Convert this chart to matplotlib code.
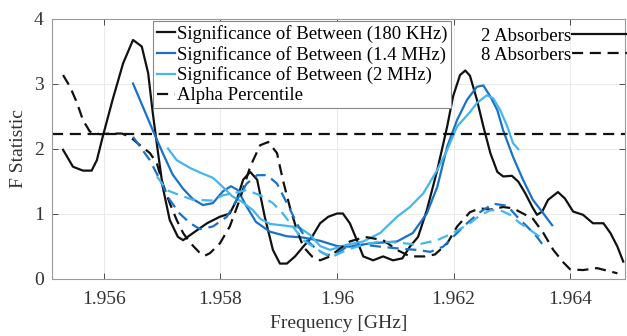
import matplotlib
matplotlib.use("Agg")
import matplotlib.pyplot as plt
from matplotlib.lines import Line2D

plt.rcParams['font.family'] = ['Liberation Serif', 'DejaVu Serif']

# ---------------- data ----------------
alpha_percentile = 2.22

x_180k_2 = [1.95530, 1.95547, 1.95564, 1.95579, 1.95588, 1.95598, 1.95615, 1.95633, 1.95650, 1.95665,
            1.95676, 1.95684, 1.95693, 1.95701, 1.95713, 1.95727, 1.95736, 1.95753, 1.95777, 1.95799,
            1.95816, 1.95828, 1.95839, 1.95851, 1.95863, 1.95876, 1.95890, 1.95902, 1.95914, 1.95928,
            1.95942, 1.95957, 1.95971, 1.95985, 1.96000, 1.96010, 1.96022, 1.96034, 1.96045, 1.96062,
            1.96079, 1.96096, 1.96112, 1.96125, 1.96139, 1.96154, 1.96172, 1.96189, 1.96199, 1.96211,
            1.96220, 1.96228, 1.96240, 1.96251, 1.96263, 1.96275, 1.96285, 1.96300, 1.96311, 1.96323,
            1.96335, 1.96343, 1.96352, 1.96362, 1.96379, 1.96391, 1.96405, 1.96422, 1.96439, 1.96457,
            1.96469, 1.96481, 1.96491]
y_180k_2 = [1.98, 1.72, 1.66, 1.66, 1.82, 2.18, 2.75, 3.31, 3.67, 3.57,
            3.16, 2.54, 1.93, 1.41, 0.90, 0.64, 0.59, 0.70, 0.85, 0.95,
            1.00, 1.21, 1.52, 1.64, 1.52, 0.95, 0.44, 0.23, 0.23, 0.34,
            0.49, 0.64, 0.85, 0.95, 1.00, 1.00, 0.85, 0.59, 0.34, 0.28,
            0.34, 0.28, 0.31, 0.49, 0.64, 1.05, 1.67, 2.34, 2.80, 3.13,
            3.20, 3.12, 2.75, 2.34, 1.93, 1.64, 1.57, 1.58, 1.49, 1.31,
            1.10, 0.98, 1.03, 1.21, 1.33, 1.23, 1.03, 0.98, 0.85, 0.85,
            0.70, 0.49, 0.26]

x_180k_8 = [1.95530, 1.95542, 1.95554, 1.95564, 1.95576, 1.95593, 1.95610, 1.95631, 1.95645, 1.95662,
            1.95679, 1.95691, 1.95701, 1.95713, 1.95725, 1.95736, 1.95748, 1.95765, 1.95773, 1.95782,
            1.95799, 1.95816, 1.95833, 1.95851, 1.95868, 1.95882, 1.95897, 1.95907, 1.95919, 1.95931,
            1.95942, 1.95957, 1.95971, 1.95988, 1.96002, 1.96022, 1.96048, 1.96079, 1.96103, 1.96125,
            1.96151, 1.96168, 1.96189, 1.96206, 1.96228, 1.96245, 1.96263, 1.96285, 1.96302, 1.96319,
            1.96336, 1.96354, 1.96371, 1.96388, 1.96400, 1.96422, 1.96446, 1.96481]
y_180k_8 = [3.13, 2.95, 2.70, 2.44, 2.26, 2.22, 2.23, 2.23, 2.18, 2.05,
            1.93, 1.77, 1.46, 1.16, 0.90, 0.70, 0.55, 0.39, 0.35, 0.39,
            0.54, 0.80, 1.21, 1.72, 2.05, 2.10, 1.93, 1.52, 1.10, 0.75,
            0.49, 0.34, 0.28, 0.34, 0.44, 0.57, 0.64, 0.59, 0.44, 0.34,
            0.34, 0.37, 0.54, 0.80, 1.02, 1.08, 1.06, 1.10, 1.08, 1.00,
            0.92, 0.70, 0.44, 0.25, 0.14, 0.13, 0.16, 0.08]

x_14m_2 = [1.95650, 1.95667, 1.95684, 1.95701, 1.95718, 1.95736, 1.95753, 1.95770, 1.95787, 1.95804,
           1.95818, 1.95830, 1.95844, 1.95861, 1.95885, 1.95914, 1.95942, 1.95971, 1.96000, 1.96022,
           1.96057, 1.96103, 1.96130, 1.96154, 1.96172, 1.96189, 1.96206, 1.96223, 1.96240, 1.96251,
           1.96263, 1.96275, 1.96285, 1.96302, 1.96319, 1.96336, 1.96354, 1.96369]
y_14m_2 = [3.00, 2.64, 2.28, 1.93, 1.60, 1.38, 1.22, 1.13, 1.16, 1.34,
           1.42, 1.36, 1.12, 0.87, 0.72, 0.65, 0.63, 0.58, 0.50, 0.49,
           0.54, 0.57, 0.70, 1.00, 1.41, 2.03, 2.44, 2.75, 2.95, 2.97,
           2.80, 2.59, 2.28, 1.87, 1.52, 1.21, 1.00, 0.82]

x_2m_2 = [1.95710, 1.95725, 1.95748, 1.95765, 1.95787, 1.95804, 1.95821, 1.95837, 1.95856, 1.95868,
          1.95885, 1.95914, 1.95936, 1.95954, 1.95971, 1.95988, 1.96017, 1.96045, 1.96074, 1.96103,
          1.96125, 1.96148, 1.96172, 1.96189, 1.96206, 1.96228, 1.96240, 1.96257, 1.96268, 1.96280,
          1.96292, 1.96302, 1.96311]
y_2m_2 = [2.00, 1.82, 1.70, 1.63, 1.55, 1.41, 1.26, 1.18, 1.05, 0.92,
          0.84, 0.81, 0.78, 0.67, 0.50, 0.44, 0.52, 0.57, 0.70, 0.95,
          1.10, 1.31, 1.67, 1.98, 2.34, 2.56, 2.70, 2.82, 2.77, 2.59,
          2.34, 2.08, 1.99]

x_14m_8 = [1.95650, 1.95662, 1.95679, 1.95696, 1.95713, 1.95730, 1.95748, 1.95765, 1.95787, 1.95811,
           1.95828, 1.95845, 1.95863, 1.95880, 1.95897, 1.95914, 1.95931, 1.95948, 1.95966, 1.95983,
           1.96000, 1.96017, 1.96045, 1.96074, 1.96108, 1.96137, 1.96160, 1.96182, 1.96199, 1.96223,
           1.96245, 1.96268, 1.96292, 1.96309, 1.96326, 1.96343, 1.96357]
y_14m_8 = [2.18, 2.03, 1.82, 1.52, 1.21, 1.00, 0.85, 0.76, 0.80, 0.95,
           1.21, 1.46, 1.59, 1.59, 1.46, 1.16, 0.85, 0.59, 0.44, 0.36,
           0.39, 0.49, 0.52, 0.49, 0.46, 0.44, 0.41, 0.49, 0.64, 0.85,
           1.02, 1.15, 1.12, 0.95, 0.80, 0.64, 0.47]

x_2m_8 = [1.95691, 1.95708, 1.95725, 1.95753, 1.95787, 1.95804, 1.95821, 1.95845, 1.95868, 1.95890,
          1.95907, 1.95924, 1.95942, 1.95959, 1.95976, 1.95993, 1.96017, 1.96045, 1.96074, 1.96108,
          1.96137, 1.96172, 1.96199, 1.96228, 1.96245, 1.96263, 1.96280, 1.96297, 1.96314, 1.96331,
          1.96348]
y_2m_8 = [1.57, 1.36, 1.30, 1.21, 1.20, 1.28, 1.31, 1.36, 1.28, 1.16,
          1.00, 0.80, 0.59, 0.49, 0.39, 0.34, 0.44, 0.52, 0.57, 0.55,
          0.52, 0.59, 0.70, 0.85, 0.97, 1.05, 1.05, 0.98, 0.85, 0.75,
          0.64]

labels = ['Significance of Between (180 KHz)', 'Significance of Between (1.4 MHz)',
          'Significance of Between (2 MHz)', 'Alpha Percentile']
absorber_labels = ['2 Absorbers', '8 Absorbers']
xticks = [1.956, 1.958, 1.96, 1.962, 1.964]
xtick_labels = ['1.956', '1.958', '1.96', '1.962', '1.964']
yticks = [0, 1, 2, 3, 4]

# ---------------- style ----------------
c_black = '#111111'
c_dark = '#1a72c6'
c_light = '#45b6ec'
lw = 1.6
dash = (5, 3)

fig = plt.figure(figsize=(6.27, 3.36), dpi=100)
ax = fig.add_axes([0.0829, 0.1711, 0.9139, 0.7738])

ax.plot(x_180k_2, y_180k_2, color=c_black, lw=lw)
ax.plot(x_14m_2, y_14m_2, color=c_dark, lw=lw)
ax.plot(x_2m_2, y_2m_2, color=c_light, lw=lw)
ax.plot(x_180k_8, y_180k_8, color=c_black, lw=lw, dashes=dash)
ax.plot(x_14m_8, y_14m_8, color=c_dark, lw=lw, dashes=dash)
ax.plot(x_2m_8, y_2m_8, color=c_light, lw=lw, dashes=dash)
ax.axhline(alpha_percentile, color=c_black, lw=lw, dashes=dash)

ax.set_xlim(1.95511, 1.96494)
ax.set_ylim(0, 4)
ax.set_xticks(xticks)
ax.set_xticklabels(xtick_labels)
ax.set_yticks(yticks)
ax.tick_params(direction='in', top=True, right=True, labelsize=14, colors='#333333',
               length=4, width=0.6)
ax.tick_params(axis='x', pad=9)
ax.tick_params(axis='y', pad=6)
ax.grid(True, color='#e6e6e6', lw=0.6)
for s in ax.spines.values():
    s.set_color('#999999')
    s.set_linewidth(0.8)
ax.set_xlabel('Frequency [GHz]', fontsize=14, color='#333333', labelpad=5)
ax.set_ylabel('F Statistic', fontsize=14, color='#333333', labelpad=5)

h1 = [Line2D([], [], color=c_black, lw=lw),
      Line2D([], [], color=c_dark, lw=lw),
      Line2D([], [], color=c_light, lw=lw),
      Line2D([], [], color=c_black, lw=lw, dashes=dash)]
leg1 = ax.legend(h1, labels, loc='upper left', bbox_to_anchor=(0.176, 0.99),
                 fontsize=13.5, frameon=True, fancybox=False, edgecolor='#888888',
                 handlelength=1.0, handletextpad=0.1, labelspacing=0.15,
                 borderpad=0.2, borderaxespad=0.0, framealpha=1)
leg1.get_frame().set_linewidth(0.8)
ax.add_artist(leg1)

h2 = [Line2D([], [], color=c_black, lw=lw),
      Line2D([], [], color=c_black, lw=lw, dashes=dash)]
leg2 = ax.legend(h2, absorber_labels, loc='upper right', bbox_to_anchor=(1.005, 0.965),
                 fontsize=13.5, frameon=False, markerfirst=False,
                 handlelength=3.0, handletextpad=0.0, labelspacing=0.1,
                 borderpad=0.0, borderaxespad=0.0)

fig.savefig('out.png', dpi=100)
